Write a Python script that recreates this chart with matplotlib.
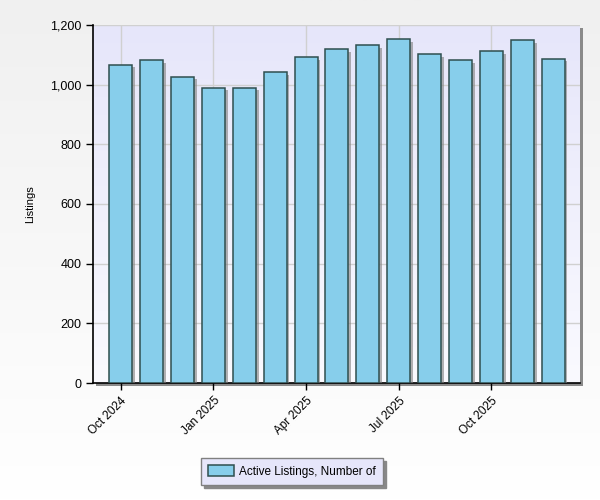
import numpy as np
import matplotlib
matplotlib.use("Agg")
import matplotlib.pyplot as plt
import matplotlib.patheffects as pe
from matplotlib.patches import Rectangle, Patch
from matplotlib.ticker import FuncFormatter

months = ["Oct 2024", "Nov 2024", "Dec 2024", "Jan 2025", "Feb 2025", "Mar 2025",
          "Apr 2025", "May 2025", "Jun 2025", "Jul 2025", "Aug 2025", "Sep 2025",
          "Oct 2025", "Nov 2025", "Dec 2025"]
active_listings = [1067, 1083, 1027, 990, 990, 1043, 1093, 1120, 1133, 1153,
                   1103, 1083, 1113, 1150, 1087]
tick_labels = ["Oct 2024", "Jan 2025", "Apr 2025", "Jul 2025", "Oct 2025"]
series_name = "Active Listings, Number of"
y_label = "Listings"

plt.rcParams['font.family'] = ['Liberation Sans', 'DejaVu Sans']

fig = plt.figure(figsize=(6, 5), dpi=100)

# figure background gradient
bg = fig.add_axes([0, 0, 1, 1], zorder=-10)
grad = np.linspace(0, 1, 256).reshape(-1, 1)
c_top = np.array([0xF0, 0xF0, 0xF0]) / 255
c_bot = np.array([0xFF, 0xFF, 0xFF]) / 255
img = c_top[None, None, :] * (1 - grad[:, :, None]) + c_bot[None, None, :] * grad[:, :, None]
bg.imshow(img, aspect='auto', extent=[0, 1, 0, 1])
bg.set_axis_off()

left, bottom, right, top = 93 / 600, 1 - 383 / 500, 580 / 600, 1 - 25 / 500
# axes shadow
fig.patches.append(Rectangle((left + 3 / 600, bottom - 3 / 500), right - left, top - bottom,
                             transform=fig.transFigure, facecolor='#8a8a8a', edgecolor='none',
                             zorder=-5))
ax = fig.add_axes([left, bottom, right - left, top - bottom])

# plot area gradient
p_top = np.array([0xE6, 0xE6, 0xFA]) / 255
p_bot = np.array([0xFA, 0xFA, 0xFF]) / 255
pimg = p_top[None, None, :] * (1 - grad[:, :, None]) + p_bot[None, None, :] * grad[:, :, None]

x = np.arange(len(months))
xl = (-0.9, len(months) - 1 + 0.87)
ax.set_xlim(*xl)
ax.set_ylim(0, 1200)
ax.imshow(pimg, aspect='auto', extent=[xl[0], xl[1], 0, 1200], zorder=0)

ax.set_axisbelow(True)
ax.grid(True, color='#d0d0d0', linewidth=1)

bars = ax.bar(x, active_listings, width=0.745, color='#87CEEB', edgecolor='#2F4F4F',
              linewidth=1.1, zorder=3)
for b in bars:
    b.set_path_effects([pe.SimplePatchShadow(offset=(2, -2), shadow_rgbFace='#808080', alpha=0.6),
                        pe.Normal()])

tick_pos = [months.index(t) for t in tick_labels]
ax.set_xticks(tick_pos)
ax.set_xticklabels(tick_labels, rotation=45, ha='right', va='top', rotation_mode='anchor',
                   fontsize=8.5)
ax.set_yticks(np.arange(0, 1201, 200))
ax.yaxis.set_major_formatter(FuncFormatter(lambda v, p: f"{int(v):,}"))
ax.tick_params(axis='y', labelsize=9, length=5, width=1, color='black')
ax.tick_params(axis='x', length=5, width=1, color='black')
for s in ['top', 'right']:
    ax.spines[s].set_visible(False)
for s in ['left', 'bottom']:
    ax.spines[s].set_color('black')
    ax.spines[s].set_linewidth(1.2)

fig.text(30 / 600, 1 - 204 / 500, y_label, rotation=90, ha='center', va='center', fontsize=8)

handle = Patch(facecolor='#87CEEB', edgecolor='#2F4F4F', linewidth=1.1)
leg = fig.legend(handles=[handle], labels=[series_name], loc='center',
                 bbox_to_anchor=(292 / 600, 1 - 471.5 / 500), fontsize=8.5,
                 fancybox=False, shadow={'color': '#888888', 'alpha': 1}, frameon=True,
                 handlelength=2.2, handleheight=1.0, borderpad=0.6, handletextpad=0.4)
leg.get_frame().set_facecolor('#E6E6FA')
leg.get_frame().set_edgecolor('#808080')
leg.get_frame().set_alpha(1)

fig.savefig("out.png", dpi=100)
